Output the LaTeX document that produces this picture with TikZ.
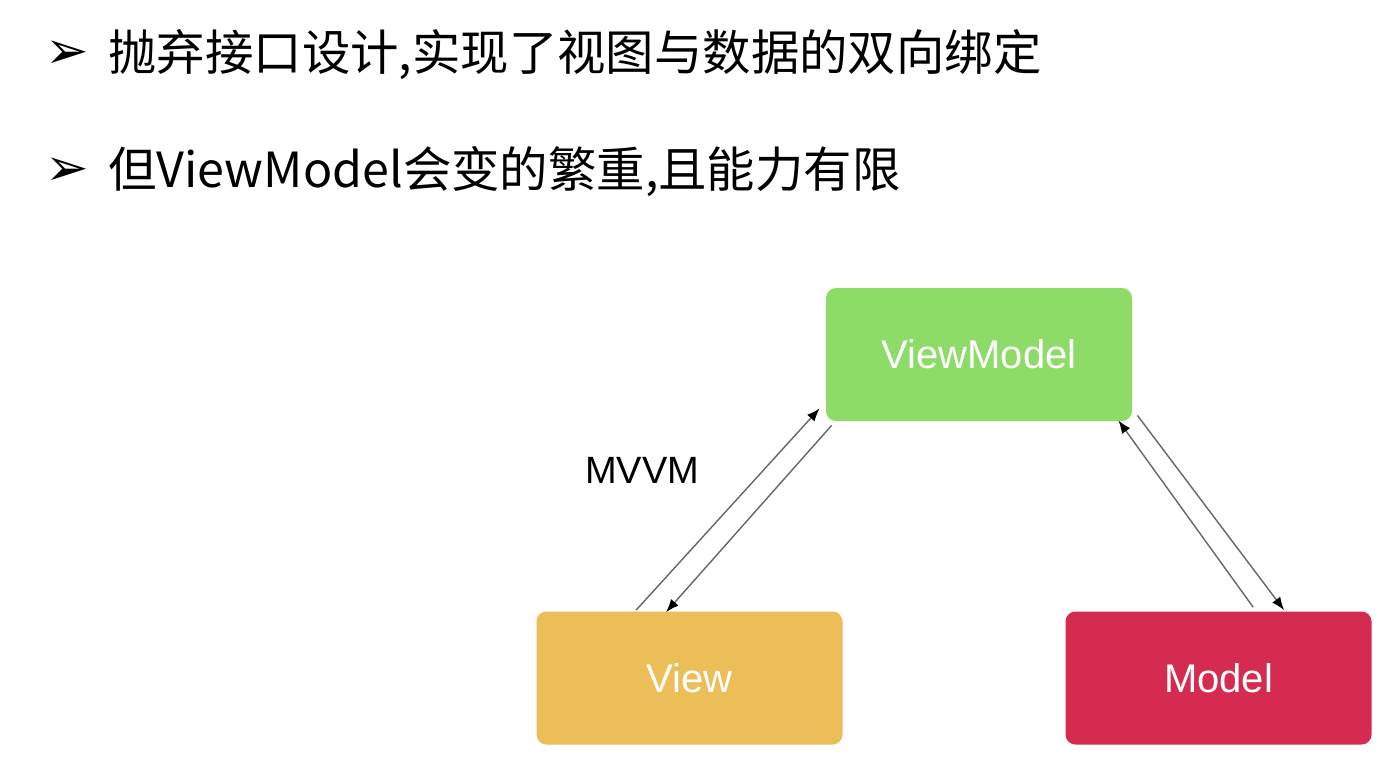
\documentclass[tikz,border=0pt]{standalone}
\usepackage{fontspec}
\setmainfont{Liberation Sans}
\newfontfamily\cjk{Noto Sans CJK SC}
\newfontfamily\sym{DejaVu Sans}
\usetikzlibrary{calc,arrows.meta}
\definecolor{vmgreen}{HTML}{8DDC68}
\definecolor{viewyellow}{HTML}{EBBE58}
\definecolor{modelred}{HTML}{D62B50}
\begin{document}
\begin{tikzpicture}[x=0.5pt,y=-0.5pt]
  \useasboundingbox[fill=white] (0,0) rectangle (1400,768);
  \tikzstyle{every node}=[inner sep=0pt]
  \tikzstyle{box}=[rounded corners=5pt, minimum width=153pt, minimum height=66.5pt,
    text=white, font=\fontsize{20}{24}\selectfont]
  \tikzstyle{link}=[draw=black!60, line width=0.7pt,
    -{Latex[length=6.5pt,width=5pt,color=black]}]

  \foreach \y/\t [count=\i] in {55/{抛弃接口设计,实现了视图与数据的双向绑定},
                               172/{但ViewModel会变的繁重,且能力有限}}
  {
    \path (67,\y) node (bullet\i) {\sym\fontsize{26}{30}\selectfont ➢};
    \path (108,\y) node[anchor=west] (line\i) {\cjk\fontsize{24.2}{29}\selectfont \t};
  }

  \path (979,354.5) node[box, fill=vmgreen] (viewmodel) {ViewModel};
  \path (689.5,678) node[box, fill=viewyellow] (view) {View};
  \path (1218.5,678) node[box, fill=modelred] (model) {Model};

  \path (642,470) node[font=\fontsize{19}{23}\selectfont] (mvvm) {MVVM};

  \draw [link]
    ($(view.north west)+(100,-1)$) -- ($(viewmodel.south west)+(-6,-13)$);
  \draw [link]
    ($(viewmodel.south west)+(6,4)$) -- ($(view.north west)+(130,1)$);
  \draw [link]
    ($(model.north west)+(188,-4)$) -- ($(viewmodel.south east)+(-14,-1)$);
  \draw [link]
    ($(viewmodel.south east)+(5,-6)$) -- ($(model.north west)+(219,-1)$);
\end{tikzpicture}
\end{document}
